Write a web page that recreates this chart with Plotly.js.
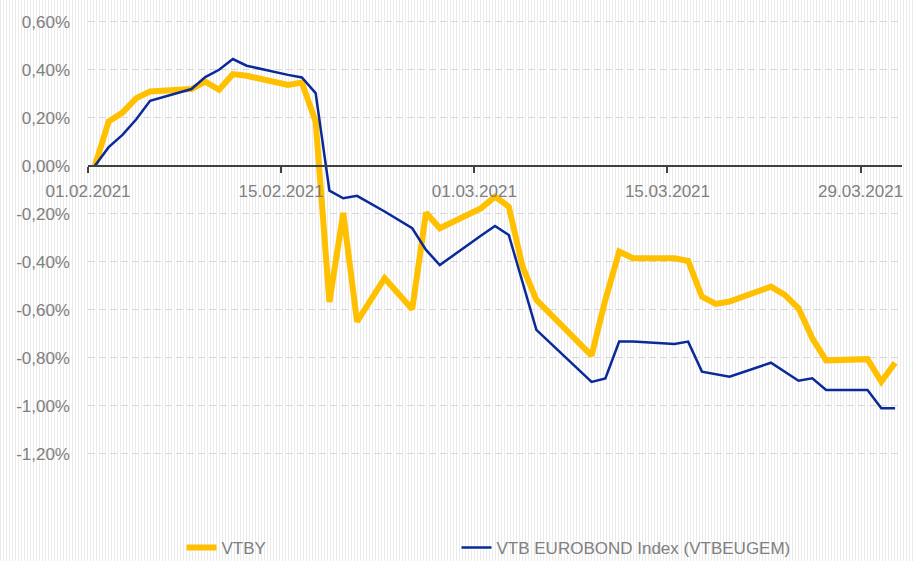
<!DOCTYPE html>
<html>
<head>
<meta charset="utf-8">
<script src="https://cdn.plot.ly/plotly-3.0.1.min.js"></script>
<style>
  html, body { margin: 0; padding: 0; }
  body {
    width: 913px; height: 561px; overflow: hidden;
    background: repeating-linear-gradient(to right, #ebebeb 0px, #ebebeb 1.5px, #ffffff 1.5px, #ffffff 3px);
  }
  #chart { width: 913px; height: 561px; }
</style>
</head>
<body>
<div id="chart"></div>
<script>
// Trading days
const dates = [
  '2021-02-01','2021-02-02','2021-02-03','2021-02-04','2021-02-05',
  '2021-02-08','2021-02-09','2021-02-10','2021-02-11','2021-02-12',
  '2021-02-15','2021-02-16','2021-02-17','2021-02-18','2021-02-19','2021-02-20',
  '2021-02-22','2021-02-24','2021-02-25','2021-02-26',
  '2021-03-01','2021-03-02','2021-03-03','2021-03-04','2021-03-05',
  '2021-03-09','2021-03-10','2021-03-11','2021-03-12',
  '2021-03-15','2021-03-16','2021-03-17','2021-03-18','2021-03-19',
  '2021-03-22','2021-03-23','2021-03-24','2021-03-25','2021-03-26',
  '2021-03-29','2021-03-30','2021-03-31'
];

// VTBY, % change
const vtby = [
  0.00, 0.185, 0.222, 0.282, 0.31,
  0.32, 0.351, 0.317, 0.382, 0.375,
  0.337, 0.347, 0.185, -0.567, -0.196, -0.649,
  -0.468, -0.597, -0.195, -0.26,
  -0.176, -0.128, -0.17, -0.42, -0.558,
  -0.79, -0.558, -0.357, -0.385,
  -0.385, -0.396, -0.545, -0.575, -0.565,
  -0.503, -0.537, -0.593, -0.718, -0.81,
  -0.805, -0.899, -0.82
];

// VTB EUROBOND Index (VTBEUGEM), % change
const vtbeugem = [
  0.00, 0.078, 0.129, 0.194, 0.271,
  0.32, 0.37, 0.40, 0.445, 0.417,
  0.379, 0.368, 0.303, -0.103, -0.135, -0.125,
  -0.19, -0.26, -0.35, -0.413,
  -0.29, -0.25, -0.288, -0.49, -0.683,
  -0.90, -0.885, -0.732, -0.732,
  -0.742, -0.732, -0.857, -0.867, -0.878,
  -0.82, -0.857, -0.895, -0.885, -0.933,
  -0.933, -1.01, -1.01
];

const tickDates = ['2021-02-01','2021-02-15','2021-03-01','2021-03-15','2021-03-29'];
const tickLabels = ['01.02.2021','15.02.2021','01.03.2021','15.03.2021','29.03.2021'];
const yTickVals = [0.6, 0.4, 0.2, 0, -0.2, -0.4, -0.6, -0.8, -1.0, -1.2];
const yTickLabels = ['0,60%','0,40%','0,20%','0,00%','-0,20%','-0,40%','-0,60%','-0,80%','-1,00%','-1,20%'];
const seriesNames = ['VTBY', 'VTB EUROBOND Index (VTBEUGEM)'];

const yMin = -1.35, yMax = 0.62;
const font = 'Liberation Sans, Arial, sans-serif';
const grey = '#808080';

const traces = [
  {
    x: dates, y: vtby, name: seriesNames[0], type: 'scatter', mode: 'lines',
    line: { color: '#FFC000', width: 6 },
    xperiod: 86400000, xperiodalignment: 'middle',
    legend: 'legend'
  },
  {
    x: dates, y: vtbeugem, name: seriesNames[1], type: 'scatter', mode: 'lines',
    line: { color: '#0B2A97', width: 2.5 },
    xperiod: 86400000, xperiodalignment: 'middle',
    legend: 'legend2'
  }
];

const legendBase = {
  orientation: 'h', xanchor: 'left', yanchor: 'middle',
  y: -0.1226,
  font: { family: font, size: 17, color: grey },
  bgcolor: 'rgba(0,0,0,0)'
};

const layout = {
  width: 913, height: 561,
  margin: { l: 88, r: 11, t: 17, b: 71, autoexpand: false },
  paper_bgcolor: 'rgba(0,0,0,0)',
  plot_bgcolor: 'rgba(0,0,0,0)',
  separators: ', ',
  font: { family: font, size: 17, color: grey },
  showlegend: true,
  legend: Object.assign({}, legendBase, { x: 0.1149 }),
  legend2: Object.assign({}, legendBase, { x: 0.4527 }),
  xaxis: {
    type: 'date',
    range: ['2021-02-01', '2021-04-01'],
    anchor: 'free',
    position: (0 - yMin) / (yMax - yMin),
    tickvals: tickDates,
    ticktext: tickLabels,
    showgrid: false,
    zeroline: false,
    showline: true, linecolor: '#404040', linewidth: 2,
    ticks: 'outside', ticklen: 6, tickwidth: 2, tickcolor: '#404040',
    ticklabelstandoff: 4,
    tickfont: { family: font, size: 17, color: grey }
  },
  yaxis: {
    range: [yMin, yMax],
    tickvals: yTickVals,
    ticktext: yTickLabels,
    showgrid: true, gridcolor: '#d9d9d9', gridwidth: 1, griddash: '7px,4px',
    zeroline: false, showline: false,
    ticks: '',
    ticklabelstandoff: 17,
    tickfont: { family: font, size: 17, color: grey }
  }
};

Plotly.newPlot('chart', traces, layout, { displayModeBar: false, staticPlot: true });
</script>
</body>
</html>
